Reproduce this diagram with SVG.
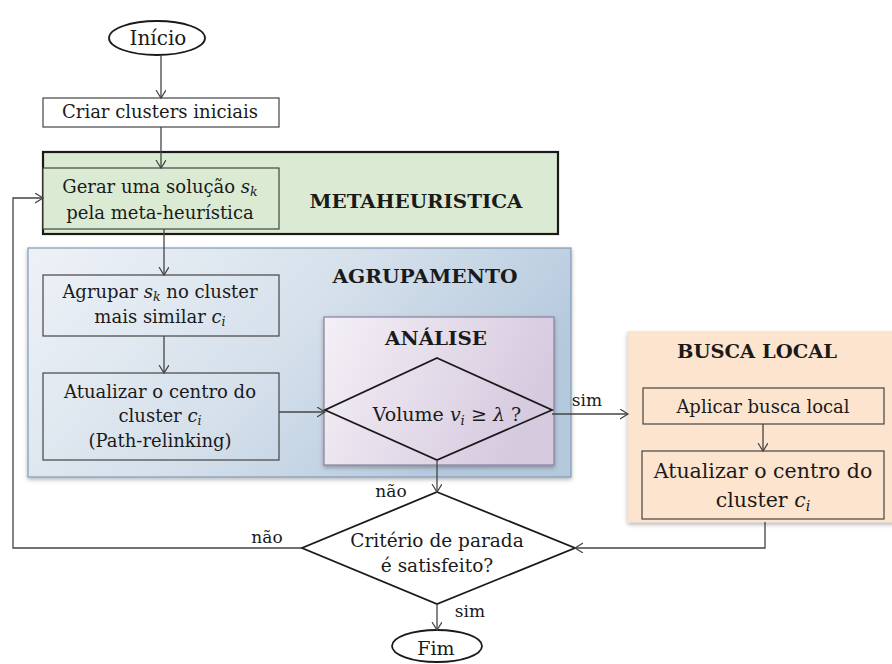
<svg xmlns="http://www.w3.org/2000/svg" width="892" height="664" viewBox="0 0 892 664">
<defs>
<linearGradient id="gBlue" x1="0" y1="0" x2="1" y2="0.4">
<stop offset="0" stop-color="#eef2f7"/><stop offset="0.55" stop-color="#d5e0eb"/><stop offset="1" stop-color="#b5c9dd"/>
</linearGradient>
<linearGradient id="gPurple" x1="0" y1="0" x2="1" y2="0.3">
<stop offset="0" stop-color="#f4f0f6"/><stop offset="1" stop-color="#d6cadf"/>
</linearGradient>
<filter id="sh" x="-5%" y="-5%" width="110%" height="115%">
<feDropShadow dx="0" dy="2" stdDeviation="2" flood-color="#000" flood-opacity="0.3"/>
</filter>
<marker id="arr" markerUnits="userSpaceOnUse" markerWidth="12" markerHeight="12" refX="8" refY="5" orient="auto">
<path d="M0,0 L8,5 L0,10" fill="none" stroke="#444" stroke-width="1.2"/>
</marker>
</defs>
<style>
text{font-family:"DejaVu Serif","Liberation Serif",serif;fill:#1a1a1a;text-anchor:middle}
.t{font-size:18px}
.big{font-size:20.5px}
.b{font-weight:bold;font-size:18.5px}
.lbl{font-size:17px}
.box{stroke:#444;stroke-width:1.2}
.conn{fill:none;stroke:#444;stroke-width:1.3}
.m{font-style:italic}
.sub{font-style:italic;font-size:70%}
</style>
<rect width="892" height="664" fill="#fff"/>

<g id="metaheuristica">
<rect x="43" y="152" width="515" height="82" fill="#dbead3" stroke="#1a1a1a" stroke-width="2.2"/>
<text class="b" x="416" y="208" textLength="213" lengthAdjust="spacingAndGlyphs">METAHEURISTICA</text>
</g>

<g id="agrupamento">
<rect x="28" y="248" width="543" height="229" fill="url(#gBlue)" stroke="#7f9ab5" stroke-width="1.2" filter="url(#sh)"/>
<text class="b" x="425" y="283" textLength="185" lengthAdjust="spacingAndGlyphs">AGRUPAMENTO</text>
</g>

<g id="analise">
<rect x="324" y="317" width="230" height="148" fill="url(#gPurple)" stroke="#8d7f9a" stroke-width="1.2" filter="url(#sh)"/>
<text class="b" x="436" y="345" textLength="102" lengthAdjust="spacingAndGlyphs">ANÁLISE</text>
</g>

<g id="busca-local">
<rect x="628" y="332" width="270" height="190" fill="#fde4cf" stroke="#f3dcc8" stroke-width="1" filter="url(#sh)"/>
<text class="b" x="757" y="358" textLength="160" lengthAdjust="spacingAndGlyphs">BUSCA LOCAL</text>
</g>

<g id="inicio">
<ellipse cx="157" cy="38" rx="48" ry="17" fill="#fff" stroke="#1a1a1a" stroke-width="1.8"/>
<text class="big" x="158" y="45" style="font-size:20px">Início</text>
</g>

<g id="criar">
<rect class="box" x="43" y="98" width="236" height="29" fill="#fff"/>
<text class="t" x="160" y="118">Criar clusters iniciais</text>
</g>

<g id="gerar">
<rect class="box" x="43" y="168" width="236" height="61" fill="#dbead3"/>
<text class="t" x="160" y="193">Gerar uma solução <tspan class="m">s</tspan><tspan class="sub" dy="3">k</tspan></text>
<text class="t" x="160" y="219">pela meta-heurística</text>
</g>

<g id="agrupar">
<rect class="box" x="43" y="275" width="236" height="61" fill="none"/>
<text class="t" x="160" y="298">Agrupar <tspan class="m">s</tspan><tspan class="sub" dy="3">k</tspan><tspan dy="-3"> no cluster</tspan></text>
<text class="t" x="160" y="323">mais similar <tspan class="m">c</tspan><tspan class="sub" dy="3">i</tspan></text>
</g>

<g id="atualizar1">
<rect class="box" x="43" y="373" width="236" height="87" fill="none"/>
<text class="t" x="160" y="398">Atualizar o centro do</text>
<text class="t" x="160" y="422">cluster <tspan class="m">c</tspan><tspan class="sub" dy="3">i</tspan></text>
<text class="t" x="160" y="447">(Path-relinking)</text>
</g>

<g id="volume">
<polygon points="437,358 552,410 437,460 325,410" fill="none" stroke="#1a1a1a" stroke-width="1.8"/>
<text class="t" x="447" y="421" style="font-size:19px">Volume <tspan class="m">v</tspan><tspan class="sub" dy="4">i</tspan><tspan dy="-4"> ≥  </tspan><tspan class="m">λ</tspan> ?</text>
</g>

<g id="aplicar">
<rect class="box" x="643" y="388" width="241" height="36" fill="none" stroke="#5a4a40"/>
<text class="t" x="763" y="413">Aplicar busca local</text>
</g>

<g id="atualizar2">
<rect class="box" x="642" y="451" width="242" height="68" fill="none" stroke="#5a4a40"/>
<text class="big" x="763" y="478">Atualizar o centro do</text>
<text class="big" x="763" y="507">cluster <tspan class="m">c</tspan><tspan class="sub" dy="4">i</tspan></text>
</g>

<g id="criterio">
<polygon points="437,492 575,548 437,604 302,548" fill="#fff" stroke="#1a1a1a" stroke-width="1.8"/>
<text class="t" x="437" y="547" style="font-size:18.5px">Critério de parada</text>
<text class="t" x="437" y="572" style="font-size:18.5px">é satisfeito?</text>
</g>

<g id="fim">
<ellipse cx="437" cy="646" rx="45" ry="16" fill="#fff" stroke="#1a1a1a" stroke-width="1.8"/>
<text class="big" x="436" y="655" style="font-size:19px">Fim</text>
</g>

<g id="connectors">
<path class="conn" d="M161,55 V98" marker-end="url(#arr)"/>
<path class="conn" d="M161,127 V168" marker-end="url(#arr)"/>
<path class="conn" d="M164,229 V275" marker-end="url(#arr)"/>
<path class="conn" d="M164,336 V373" marker-end="url(#arr)"/>
<path class="conn" d="M279,412 H325" marker-end="url(#arr)"/>
<path class="conn" d="M552,414 H628" marker-end="url(#arr)"/>
<path class="conn" d="M763,424 V451" marker-end="url(#arr)"/>
<path class="conn" d="M437,460 V492" marker-end="url(#arr)"/>
<path class="conn" d="M765,522 V548 H575" marker-end="url(#arr)"/>
<path class="conn" d="M302,548 H13 V198 H43" marker-end="url(#arr)"/>
<path class="conn" d="M437,604 V630" marker-end="url(#arr)"/>
<text class="lbl" x="587" y="406">sim</text>
<text class="lbl" x="391" y="497">não</text>
<text class="lbl" x="267" y="543">não</text>
<text class="lbl" x="470" y="617">sim</text>
</g>
</svg>
